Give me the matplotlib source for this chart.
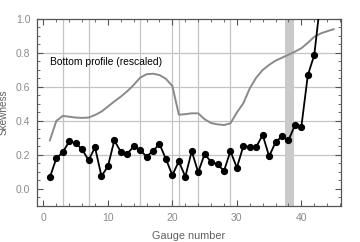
import matplotlib
matplotlib.use("Agg")
import matplotlib.pyplot as plt
from matplotlib.ticker import MultipleLocator

gauges = list(range(1, 44))
skewness = [0.069, 0.18, 0.216, 0.28, 0.27, 0.233, 0.169, 0.245, 0.075, 0.133,
            0.286, 0.218, 0.206, 0.251, 0.229, 0.19, 0.224, 0.265, 0.175, 0.081,
            0.163, 0.072, 0.222, 0.098, 0.206, 0.159, 0.145, 0.106, 0.222, 0.125,
            0.252, 0.245, 0.247, 0.318, 0.192, 0.275, 0.31, 0.286, 0.375, 0.367,
            0.669, 0.788, 1.12]

profile_x = list(range(1, 46))
profile = [0.286, 0.40, 0.43, 0.425, 0.42, 0.418, 0.42, 0.435, 0.455, 0.485,
           0.515, 0.543, 0.575, 0.612, 0.655, 0.675, 0.678, 0.67, 0.648, 0.605,
           0.437, 0.44, 0.445, 0.445, 0.41, 0.388, 0.38, 0.376, 0.386, 0.45,
           0.504, 0.592, 0.655, 0.70, 0.73, 0.755, 0.772, 0.79, 0.808, 0.828,
           0.86, 0.895, 0.915, 0.928, 0.94]

grid_x = [3, 7, 15, 20, 21, 24, 29]
grid_y = [0.2, 0.4, 0.6, 0.8]
band = (37.5, 38.8)

fig = plt.figure(figsize=(3.6, 2.42), dpi=100)
ax = fig.add_axes([0.1036, 0.149, 0.8428, 0.7725])

for gx in grid_x:
    ax.axvline(gx, color="#c4c4c4", lw=0.9, zorder=0)
for gy in grid_y:
    ax.axhline(gy, color="#c4c4c4", lw=0.9, zorder=0)
ax.axvspan(band[0], band[1], color="#cacaca", lw=0, zorder=0.5)

ax.plot(profile_x, profile, color="#8a8a8a", lw=1.4, zorder=2)
ax.plot(gauges, skewness, color="black", lw=1.3, marker="o", ms=4.2, zorder=3)

ax.text(1.0, 0.745, "Bottom profile (rescaled)", fontsize=7.4, color="black",
        family="Liberation Sans", va="center", ha="left")

ax.set_xlim(-0.95, 46.1)
ax.set_ylim(-0.1, 1.0)
ax.xaxis.set_major_locator(MultipleLocator(10))
ax.xaxis.set_minor_locator(MultipleLocator(2))
ax.yaxis.set_major_locator(MultipleLocator(0.2))
ax.yaxis.set_minor_locator(MultipleLocator(0.05))
ax.yaxis.set_major_formatter(plt.FuncFormatter(lambda v, p: f"{v:.1f}"))

for s in ax.spines.values():
    s.set_color("#555555")
    s.set_linewidth(0.9)

ax.tick_params(which="both", direction="in", top=True, right=True,
               color="#555555", labelsize=7.5, labelcolor="#8a8a8a")
ax.tick_params(which="major", length=4, width=0.8, pad=5)
ax.tick_params(which="minor", length=2.2, width=0.6)
for lab in ax.get_xticklabels() + ax.get_yticklabels():
    lab.set_family("Liberation Sans")

ax.set_xlabel("Gauge number", fontsize=7.8, color="#606060", family="Liberation Sans", labelpad=6)
ax.set_ylabel("Skewness", fontsize=7.2, color="#606060", family="Liberation Sans", labelpad=5)

fig.savefig("out.png", dpi=100)
